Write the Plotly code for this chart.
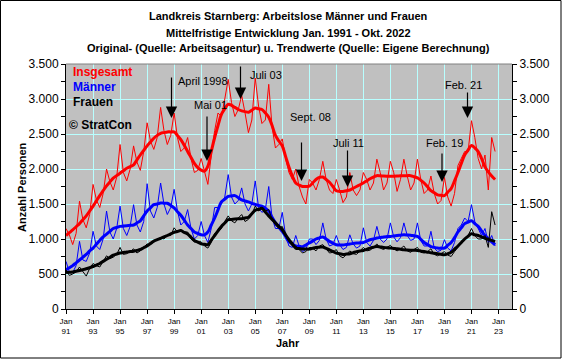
import pandas as pd
import plotly.graph_objects as go

# ---------------- data (quarterly: Jan, Apr, Jul, Oct; 1991 - Oct 2022) ----------------
dates = pd.date_range("1991-01-01", "2022-10-01", freq="QS")

insgesamt_raw = [
    1150, 1060, 920, 1080,   1540, 1280, 1160, 1350,   1780, 1560, 1450, 1650,
    2000, 1820, 1700, 1880,  2350, 1950, 1830, 2000,   2330, 2100, 1980, 2250,
    2660, 2400, 2280, 2450,  2880, 2550, 2350, 2480,   2800, 2450, 2250, 2300,
    2450, 2150, 1950, 1980,  2150, 1950, 1780, 2200,   2550, 2800, 2750, 3000,
    3280, 2950, 2750, 2850,  3050, 2800, 2520, 2700,   3300, 2900, 2650, 2700,
    3210, 2600, 2300, 2350,  2430, 2150, 1950, 1850,   2000, 1750, 1600, 1500,
    1850, 1800, 1700, 1850,  2110, 1850, 1700, 1650,   1850, 1700, 1520, 1600,
    1950, 1700, 1620, 1700,  1950, 1850, 1700, 1800,   2140, 1950, 1700, 1800,
    2110, 1950, 1680, 1850,  2140, 1900, 1700, 1800,   2140, 1850, 1650, 1700,
    1900, 1650, 1500, 1550,  1880, 1600, 1470, 1650,   2050, 2150, 2250, 2250,
    2690, 2450, 2150, 2000,  2200, 1700, 2450, 2250,
]
insgesamt_trend = [
    1050, 1090, 1130, 1175,  1220, 1275, 1330, 1400,   1470, 1545, 1620, 1690,
    1760, 1815, 1870, 1905,  1940, 1975, 2010, 2035,   2060, 2130, 2200, 2265,
    2330, 2385, 2440, 2480,  2510, 2520, 2530, 2530,   2530, 2480, 2420, 2340,
    2250, 2165, 2080, 2020,  1985, 1970, 2040, 2250,   2450, 2620, 2780, 2860,
    2925, 2910, 2880, 2850,  2830, 2820, 2810, 2840,   2870, 2860, 2850, 2800,
    2740, 2620, 2480, 2400,  2330, 2180, 2030, 1900,   1800, 1770, 1750, 1750,
    1754, 1800, 1850, 1880,  1885, 1850, 1810, 1750,   1690, 1680, 1680, 1690,
    1700, 1725, 1750, 1775,  1800, 1830, 1860, 1885,   1905, 1902, 1900, 1898,
    1897, 1898, 1900, 1902,  1905, 1905, 1905, 1890,   1874, 1840, 1800, 1745,
    1690, 1660, 1630, 1625,  1620, 1670, 1720, 1830,   1950, 2080, 2200, 2270,
    2337, 2300, 2250, 2150,  2030, 1960, 1900, 1850,
]
maenner_raw = [
    680, 530, 520, 620,      966, 700, 680, 800,       1110, 900, 850, 1000,
    1400, 1100, 1000, 1150,  1470, 1150, 1050, 1180,   1490, 1200, 1100, 1250,
    1790, 1400, 1300, 1450,  1800, 1500, 1350, 1450,   1710, 1400, 1200, 1250,
    1420, 1150, 1000, 1050,  1250, 1050, 950, 1150,    1450, 1450, 1500, 1600,
    1920, 1600, 1500, 1550,  1730, 1500, 1400, 1500,   1830, 1450, 1380, 1420,
    1750, 1300, 1150, 1150,  1380, 1050, 900, 880,     1050, 900, 820, 850,
    1000, 1000, 920, 980,    1230, 1000, 900, 920,     1050, 920, 850, 880,
    1060, 930, 870, 900,     1160, 950, 900, 980,      1180, 1000, 950, 1000,
    1230, 1030, 960, 1020,   1230, 1050, 980, 1000,    1230, 980, 900, 900,
    1110, 870, 820, 840,     990, 870, 830, 950,       1150, 1200, 1300, 1250,
    1490, 1250, 1150, 1050,  1150, 950, 1050, 900,
]
maenner_trend = [
    560, 590, 620, 660,      700, 740, 780, 830,       870, 925, 980, 1030,
    1070, 1110, 1150, 1165,  1180, 1185, 1190, 1195,   1200, 1230, 1260, 1330,
    1400, 1445, 1490, 1500,  1515, 1512, 1510, 1480,   1444, 1390, 1340, 1270,
    1200, 1150, 1100, 1080,  1060, 1060, 1100, 1200,   1300, 1415, 1530, 1570,
    1610, 1615, 1620, 1590,  1560, 1545, 1530, 1510,   1495, 1480, 1470, 1440,
    1400, 1310, 1230, 1170,  1109, 1035, 960, 930,     900, 895, 890, 915,
    942, 970, 1000, 1015,    1030, 1000, 966, 940,     918, 916, 915, 922,
    930, 936, 942, 946,      951, 970, 990, 1000,      1013, 1020, 1030, 1034,
    1037, 1044, 1050, 1055,  1060, 1058, 1055, 1046,   1037, 995, 950, 920,
    890, 880, 870, 870,      870, 910, 950, 1020,      1100, 1160, 1220, 1240,
    1262, 1220, 1180, 1115,  1050, 1005, 960, 918,
]
frauen_raw = [
    560, 480, 500, 530,      600, 540, 470, 580,       650, 620, 600, 680,
    760, 720, 740, 780,      880, 780, 790, 820,       860, 800, 830, 880,
    930, 920, 960, 1000,     1020, 1000, 1060, 1050,   1160, 1100, 1130, 1100,
    1100, 1000, 960, 960,    960, 900, 870, 950,       1080, 1100, 1150, 1250,
    1330, 1260, 1230, 1300,  1350, 1250, 1280, 1350,   1470, 1400, 1430, 1400,
    1420, 1280, 1200, 1150,  1180, 1050, 960, 900,     900, 850, 800, 820,
    880, 870, 830, 900,      920, 860, 800, 810,       850, 760, 730, 780,
    830, 790, 780, 830,      880, 830, 840, 880,       930, 870, 850, 880,
    910, 860, 830, 860,      900, 830, 810, 850,       880, 810, 800, 820,
    860, 780, 760, 790,      820, 770, 750, 820,       880, 950, 1000, 1050,
    1150, 1050, 1000, 1000,  1050, 880, 1390, 1200,
]
frauen_trend = [
    520, 525, 530, 540,      550, 562, 575, 590,       607, 628, 650, 680,
    710, 740, 770, 785,      799, 807, 815, 820,       825, 837, 850, 875,
    900, 935, 970, 990,      1010, 1030, 1050, 1072,   1094, 1107, 1120, 1095,
    1070, 1025, 980, 955,    930, 925, 920, 985,       1050, 1115, 1180, 1228,
    1276, 1280, 1285, 1288,  1290, 1300, 1310, 1360,   1410, 1425, 1440, 1385,
    1330, 1280, 1230, 1180,  1133, 1060, 990, 930,     870, 863, 856, 856,
    856, 868, 880, 883,      885, 865, 846, 822,       799, 790, 780, 785,
    790, 805, 820, 828,      836, 853, 870, 882,       894, 887, 880, 875,
    870, 865, 860, 853,      846, 843, 840, 838,       836, 828, 820, 812,
    805, 797, 790, 782,      775, 790, 810, 855,       900, 950, 1000, 1040,
    1075, 1060, 1050, 1030,  1010, 995, 980, 966,
]

tick_years = ["91", "93", "95", "97", "99", "01", "03", "05", "07", "09",
              "11", "13", "15", "17", "19", "21", "23"]
tick_dates = [f"{1991 + 2 * i}-01-01" for i in range(len(tick_years))]
tick_text = ["Jan<br>" + t for t in tick_years]

title_lines = [
    "Landkreis Starnberg: Arbeitslose Männer und Frauen",
    "Mittelfristige Entwicklung Jan. 1991 - Okt. 2022",
    "Original- (Quelle: Arbeitsagentur) u. Trendwerte (Quelle: Eigene Berechnung)",
]
legend_items = [("Insgesamt", "#FF0000"), ("Männer", "#0000FF"), ("Frauen", "#000000")]
arrow_labels = ["April 1998", "Mai 01", "Juli 03", "Sept. 08", "Juli 11", "Feb. 19", "Feb. 21"]

# ---------------- layout geometry (pixels) ----------------
W_FIG, H_FIG = 563, 360
PL, PR, PT, PB = 66, 512, 64, 309
PW, PH = PR - PL, PB - PT


def px(x):
    return (x - PL) / PW


def py(y):
    return (PB - y) / PH


FONT = "Liberation Sans, Arial, sans-serif"

fig = go.Figure()
series = [
    (insgesamt_raw, insgesamt_trend, "#FF0000"),
    (maenner_raw, maenner_trend, "#0000FF"),
    (frauen_raw, frauen_trend, "#000000"),
]
for raw, trend, col in series:
    fig.add_trace(go.Scatter(x=dates, y=raw, mode="lines",
                             line=dict(color=col, width=1),
                             hoverinfo="skip", showlegend=False))
    fig.add_trace(go.Scatter(x=dates, y=trend, mode="lines",
                             line=dict(color=col, width=3, shape="spline", smoothing=1),
                             hoverinfo="skip", showlegend=False))
# dummy trace for right axis
fig.add_trace(go.Scatter(x=[dates[0]], y=[0], yaxis="y2", mode="markers",
                         marker=dict(opacity=0), hoverinfo="skip", showlegend=False))

yax = dict(range=[0, 3500], dtick=500, tick0=0, tickformat=",",
           ticks="outside", ticklen=4, tickcolor="black",
           showline=True, linecolor="black", linewidth=1,
           tickfont=dict(family=FONT, size=12, color="black"),
           minor=dict(dtick=250, ticks="outside", ticklen=4, tickcolor="black", showgrid=False),
           zeroline=False, fixedrange=True)

fig.update_layout(
    width=W_FIG, height=H_FIG,
    margin=dict(l=PL, r=W_FIG - PR, t=PT, b=H_FIG - PB, pad=0),
    paper_bgcolor="white", plot_bgcolor="#C0C0C0",
    separators=",.",
    showlegend=False,
    xaxis=dict(type="date", range=["1991-01-01", "2024-01-01"],
               tickvals=tick_dates, ticktext=tick_text,
               ticks="outside", ticklen=4, tickcolor="black",
               showline=True, linecolor="black", linewidth=1,
               showgrid=True, gridcolor="#B8FFFF", gridwidth=1,
               tickfont=dict(family=FONT, size=8, color="black"),
               zeroline=False, fixedrange=True),
    yaxis=dict(**yax, showgrid=True, gridcolor="#B8FFFF", gridwidth=1),
    yaxis2=dict(**yax, overlaying="y", side="right", showgrid=False),
)

ann = []
# title
for i, line in enumerate(title_lines):
    ann.append(dict(text="<b>" + line + "</b>", xref="paper", yref="paper",
                    x=px(288), y=py([16, 32.5, 48.5][i]), xanchor="center", yanchor="middle",
                    showarrow=False, font=dict(family=FONT, size=11, color="black")))
# legend texts
for i, (name, col) in enumerate(legend_items):
    ann.append(dict(text="<b>" + name + "</b>", xref="paper", yref="paper",
                    x=px(71), y=py([72, 87, 102][i]), xanchor="left", yanchor="middle",
                    showarrow=False, font=dict(family=FONT, size=12, color=col)))
ann.append(dict(text="<b>© StratCon</b>", xref="paper", yref="paper",
                x=px(67), y=py(125), xanchor="left", yanchor="middle",
                showarrow=False, font=dict(family=FONT, size=12, color="black")))
# axis titles
ann.append(dict(text="<b>Anzahl Personen</b>", xref="paper", yref="paper",
                x=px(22), y=py(187), xanchor="center", yanchor="middle", textangle=-90,
                showarrow=False, font=dict(family=FONT, size=11, color="black")))
ann.append(dict(text="<b>Jahr</b>", xref="paper", yref="paper",
                x=px(288), y=py(343), xanchor="center", yanchor="middle",
                showarrow=False, font=dict(family=FONT, size=11, color="black")))
# arrow labels: (label center x, y)
label_pos = [(203, 81), (210, 105), (266, 75), (310, 117), (348, 143), (444, 143), (463, 85)]
for txt, (lx, ly) in zip(arrow_labels, label_pos):
    ann.append(dict(text=txt, xref="paper", yref="paper", x=px(lx), y=py(ly),
                    xanchor="center", yanchor="middle", showarrow=False,
                    font=dict(family=FONT, size=11, color="black")))
# arrows: (x, top, tip)
arrows = [(171.5, 76, 118), (207, 115, 161), (240.5, 65, 99), (301.5, 141, 181),
          (347.5, 149, 187), (442, 152, 182), (467.5, 91, 118)]
for ax_, top, tip in arrows:
    ann.append(dict(text="", xref="paper", yref="paper", x=px(ax_), y=py(tip),
                    ax=0, ay=top - tip, showarrow=True, arrowhead=2,
                    arrowsize=1.9, arrowwidth=1.2, arrowcolor="black"))
fig.update_layout(annotations=ann)

# gray top border of plot area & black outer frame
fig.add_shape(type="line", xref="paper", yref="paper", x0=0, x1=1, y0=1, y1=1,
              line=dict(color="#808080", width=1))
fig.add_shape(type="rect", xref="paper", yref="paper",
              x0=px(0.5), x1=px(561), y0=py(0.5), y1=py(358),
              line=dict(color="black", width=1), fillcolor="rgba(0,0,0,0)")

fig.write_html("out.html", config={"displayModeBar": False},
               post_script="document.body.style.margin='0px';document.body.style.overflow='hidden';")
